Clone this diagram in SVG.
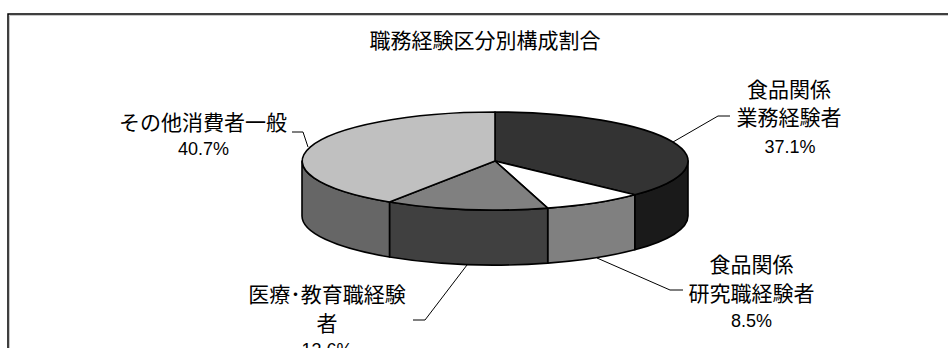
<svg xmlns="http://www.w3.org/2000/svg" width="948" height="348" viewBox="0 0 948 348">
<style>
.jp{font-family:"Noto Sans CJK JP","Noto Sans",sans-serif;font-size:21px;fill:#000;text-anchor:middle}
.pc{font-family:"Liberation Sans",Arial,sans-serif;font-size:18px;fill:#000;text-anchor:middle}
.pie{stroke:#000;stroke-width:1.6;stroke-linejoin:round}
.lead{fill:none;stroke:#000;stroke-width:1}
</style>
<rect width="948" height="348" fill="#fff"/>
<g id="frame">
<path d="M9.5,350 L9.5,15.5 L950,15.5" fill="none" stroke="#c8c8c8" stroke-width="1"/>
<path d="M8,350 L8,14 L950,14" fill="none" stroke="#000" stroke-width="1.5"/>
</g>
<g id="title"><text class="jp" x="485" y="47.5">職務経験区分別構成割合</text></g>
<g id="pie">
<g id="side-1"><path class="pie" fill="#1a1a1a" d="M688,161 A193,49 0 0 1 634.8,194.8 L634.8,249.8 A193,49 0 0 0 688,216 Z"/></g>
<g id="side-2"><path class="pie" fill="#808080" d="M634.8,194.8 A193,49 0 0 1 547.7,208.1 L547.7,263.1 A193,49 0 0 0 634.8,249.8 Z"/></g>
<g id="side-3"><path class="pie" fill="#404040" d="M547.7,208.1 A193,49 0 0 1 389.5,202 L389.5,257 A193,49 0 0 0 547.7,263.1 Z"/></g>
<g id="side-4"><path class="pie" fill="#666666" d="M389.5,202 A193,49 0 0 1 302,161 L302,216 A193,49 0 0 0 389.5,257 Z"/></g>
<g id="slice-food-business"><path class="pie" fill="#333333" d="M495,161 L495,112 A193,49 0 0 1 634.8,194.8 Z"/></g>
<g id="slice-food-research"><path class="pie" fill="#ffffff" d="M495,161 L634.8,194.8 A193,49 0 0 1 547.7,208.1 Z"/></g>
<g id="slice-medical"><path class="pie" fill="#808080" d="M495,161 L547.7,208.1 A193,49 0 0 1 389.5,202 Z"/></g>
<g id="slice-other"><path class="pie" fill="#c0c0c0" d="M495,161 L389.5,202 A193,49 0 0 1 495,112 Z"/></g>
</g>
<g id="connectors">
<polyline class="lead" points="292,132 303,132 308,147"/>
<polyline class="lead" points="730,116 718,116 673,142"/>
<polyline class="lead" points="597,258 670,290 683,290"/>
<polyline class="lead" points="467,265 425,320 413,320"/>
</g>
<g id="label-other">
<text class="jp" x="203" y="129.5">その他消費者一般</text>
<text class="pc" x="203.5" y="155">40.7%</text>
</g>
<g id="label-food-business">
<text class="jp" x="789" y="96.5">食品関係</text>
<text class="jp" x="789" y="125">業務経験者</text>
<text class="pc" x="790" y="153">37.1%</text>
</g>
<g id="label-food-research">
<text class="jp" x="751.5" y="271.5">食品関係</text>
<text class="jp" x="751.5" y="301">研究職経験者</text>
<text class="pc" x="751.5" y="327">8.5%</text>
</g>
<g id="label-medical">
<text class="jp" x="327" y="301.5">医療･教育職経験</text>
<text class="jp" x="327" y="330.5">者</text>
<text class="pc" x="327" y="356">13.6%</text>
</g>
</svg>
